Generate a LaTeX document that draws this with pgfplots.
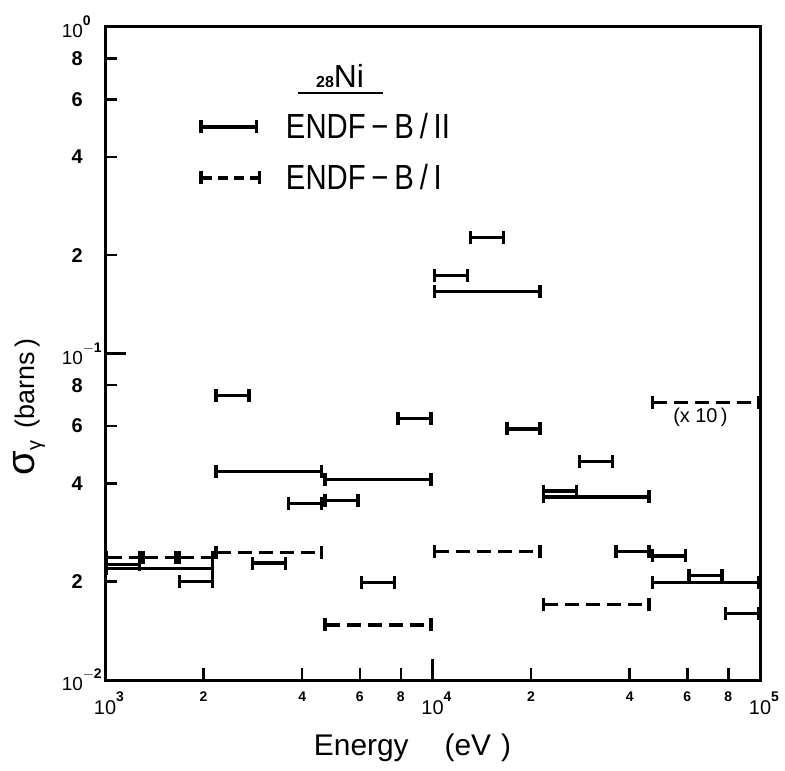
\documentclass[border=0pt]{standalone}
\usepackage{fontspec}
\setmainfont{Liberation Sans}
\newfontfamily\narrowfont[FakeStretch=0.84]{Liberation Sans}
\usepackage{pgfplots}
\pgfplotsset{compat=1.18}
\usetikzlibrary{arrows.meta,calc}

\tikzset{
  segline/.style={black, line width=3.4bp, {Bar[width=13bp]}-{Bar[width=13bp]}},
  dsegline/.style={segline, dash pattern=on 14bp off 7bp},
}
\pgfplotsset{
  seg/.style={/tikz/segline, forget plot},
  dseg/.style={/tikz/dsegline, forget plot},
}
\newcommand{\dec}[1]{10\rlap{\raisebox{0.62em}{\fontsize{14}{14}\selectfont\bfseries #1}}}

\begin{document}
\begin{tikzpicture}
\begin{axis}[
  name=ax, clip=false,
  scale only axis, width=655bp, height=653bp,
  xmode=log, ymode=log,
  xmin=1000, xmax=100000, ymin=0.01, ymax=1,
  axis line style={line width=3bp},
  every tick/.append style={black, line width=2.5bp},
  tick pos=left, tick align=inside,
  major tick length=21bp, minor tick length=0pt,
  xtick={1000,10000,100000},
  xticklabels={\dec{3},\dec{4},\dec{5}},
  ytick={0.01,0.1,1},
  yticklabels={\dec{$-$2},\dec{$-$1},\dec{0}},
  xticklabel style={anchor=north, inner sep=0pt, yshift=-12bp, font=\fontsize{20}{20}\selectfont},
  yticklabel style={anchor=east, inner sep=0pt, xshift=-22bp, font=\fontsize{19}{19}\selectfont},
  extra x ticks={2000,4000,6000,8000,20000,40000,60000,80000},
  extra x tick labels={2,4,6,8,2,4,6,8},
  extra x tick style={tick pos=left, major tick length=12bp,
    xticklabel style={font=\fontsize{14}{14}\selectfont\bfseries}},
  extra y ticks={0.02,0.04,0.06,0.08,0.2,0.4,0.6,0.8},
  extra y tick labels={2,4,6,8,2,4,6,8},
  extra y tick style={tick pos=left, major tick length=12bp,
    yticklabel style={font=\fontsize{20}{20}\selectfont\bfseries}},
  legend cell align=left,
  legend style={draw=none, fill=none, inner sep=0pt,
    at={(rel axis cs:0.141,0.808)}, anchor=west,
    nodes={inner sep=0pt, anchor=west, text height=37bp, text depth=14bp},
    font=\narrowfont\fontsize{35}{35}\selectfont,
    /tikz/every odd column/.append style={column sep=23bp}},
]
\addlegendimage{legend image code/.code={\draw[segline] (0bp,0bp) -- (59bp,0bp);}}
\addlegendentry{ENDF\,−\,B\,/\,II}
\addlegendimage{legend image code/.code={\draw[segline, dash pattern=on 10bp off 6bp] (0bp,0bp) -- (62bp,0bp);}}
\addlegendentry{ENDF\,−\,B\,/\,I}

% ENDF-B/II (solid)
\addplot[seg] coordinates {(1000,0.0226) (1292,0.0226)};
\addplot[seg] coordinates {(1000,0.0220) (2154,0.0220)};
\addplot[seg] coordinates {(1668,0.0200) (2154,0.0200)};
\addplot[seg] coordinates {(2154,0.0743) (2783,0.0743)};
\addplot[seg] coordinates {(2154,0.0436) (4642,0.0436)};
\addplot[seg] coordinates {(2783,0.0228) (3594,0.0228)};
\addplot[seg] coordinates {(3594,0.0347) (4642,0.0347)};
\addplot[seg] coordinates {(4642,0.0355) (5995,0.0355)};
\addplot[seg] coordinates {(4642,0.0412) (10000,0.0412)};
\addplot[seg] coordinates {(5995,0.0199) (7743,0.0199)};
\addplot[seg] coordinates {(7743,0.0632) (10000,0.0632)};
\addplot[seg] coordinates {(10000,0.173) (12915,0.173)};
\addplot[seg] coordinates {(10000,0.155) (21544,0.155)};
\addplot[seg] coordinates {(12915,0.227) (16681,0.227)};
\addplot[seg] coordinates {(16681,0.0588) (21544,0.0588)};
\addplot[seg] coordinates {(21544,0.0379) (27826,0.0379)};
\addplot[seg] coordinates {(21544,0.0364) (46416,0.0364)};
\addplot[seg] coordinates {(27826,0.0466) (35938,0.0466)};
\addplot[seg] coordinates {(35938,0.0248) (46416,0.0248)};
\addplot[seg] coordinates {(46416,0.0240) (59948,0.0240)};
\addplot[seg] coordinates {(59948,0.0209) (77426,0.0209)};
\addplot[seg] coordinates {(46416,0.0199) (100000,0.0199)};
\addplot[seg] coordinates {(77426,0.0160) (100000,0.0160)};

% ENDF-B/I (dashed)
\addplot[dseg] coordinates {(1000,0.0237) (1292,0.0237)};
\addplot[dseg] coordinates {(1292,0.0237) (1668,0.0237)};
\addplot[dseg] coordinates {(1668,0.0237) (2154,0.0237)};
\addplot[dseg] coordinates {(2154,0.0246) (4642,0.0246)};
\addplot[dseg] coordinates {(4642,0.01476) (10000,0.01476)};
\addplot[dseg] coordinates {(10000,0.0248) (21544,0.0248)};
\addplot[dseg] coordinates {(21544,0.0170) (46416,0.0170)};
\addplot[dseg] coordinates {(46416,0.0709) (100000,0.0709)};

\node[font=\fontsize{20}{20}\selectfont] at (rel axis cs:0.909,0.403) {(x\ 10\,)};

% title of the legend
\node[anchor=base, font=\fontsize{32}{32}\selectfont, inner sep=0pt] at (rel axis cs:0.359,0.907)
  {{\fontsize{16}{16}\selectfont\bfseries 28}Ni};
\draw[line width=2bp] (rel axis cs:0.295,0.899) -- (rel axis cs:0.424,0.899);

% axis labels
\node[font=\fontsize{30}{30}\selectfont] at ([yshift=-68bp]rel axis cs:0.4695,0) {Energy\hspace{36bp}(eV\,\,)};
\node[rotate=90, font=\fontsize{27}{27}\selectfont] at ([xshift=-76bp]rel axis cs:0,0.418)
  {{\fontsize{40}{40}\selectfont σ}\raisebox{-0.25em}{\fontsize{20}{20}\selectfont γ}\hspace{12bp}(barns\,)};

\coordinate (sw) at (rel axis cs:0,0);
\coordinate (ne) at (rel axis cs:1,1);
\end{axis}
\pgfresetboundingbox
\path[use as bounding box] ($(sw)+(-105bp,-91bp)$) rectangle ($(ne)+(25bp,27bp)$);
\end{tikzpicture}
\end{document}
